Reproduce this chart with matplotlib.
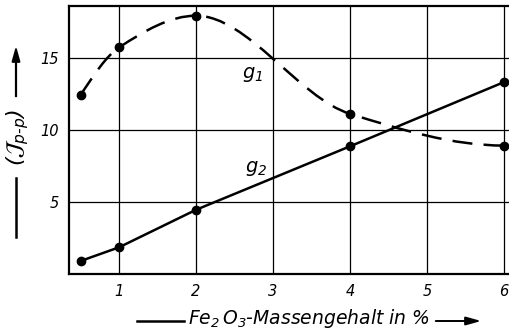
import matplotlib.pyplot as plt
import numpy as np
from matplotlib.path import Path
from matplotlib.patches import PathPatch

# Messwerte
x_werte = [0.5, 1, 2, 4, 6]
g1_werte = [12.4, 15.7, 17.9, 11.1, 8.9]
g2_werte = [0.9, 1.85, 4.45, 8.85, 13.3]
x_ticks = [1, 2, 3, 4, 5, 6]
y_ticks = [5, 10, 15]

W, H = 510, 332
plt.rcParams['font.family'] = 'DejaVu Sans'
plt.rcParams['font.style'] = 'italic'
plt.rcParams['mathtext.default'] = 'it'


def px(x, y):
    # Pixelkoordinaten (oben links) -> Figurenbruch
    return x / W, 1 - y / H


def pchip_tangenten(x, y):
    x = np.asarray(x, float)
    y = np.asarray(y, float)
    h = np.diff(x)
    d = np.diff(y) / h
    m = np.zeros_like(y)
    for k in range(1, len(x) - 1):
        if d[k - 1] * d[k] > 0:
            w1 = 2 * h[k] + h[k - 1]
            w2 = h[k] + 2 * h[k - 1]
            m[k] = (w1 + w2) / (w1 / d[k - 1] + w2 / d[k])
    m0 = ((2 * h[0] + h[1]) * d[0] - h[0] * d[1]) / (h[0] + h[1])
    m[0] = m0 if m0 * d[0] > 0 else 0
    mn = ((2 * h[-1] + h[-2]) * d[-1] - h[-1] * d[-2]) / (h[-1] + h[-2])
    m[-1] = mn if mn * d[-1] > 0 else 0
    return m


def glatte_kurve(x, y):
    # kubische Bezier-Segmente durch die Messpunkte
    m = pchip_tangenten(x, y)
    verts = [(x[0], y[0])]
    codes = [Path.MOVETO]
    for k in range(len(x) - 1):
        h = x[k + 1] - x[k]
        verts += [(x[k] + h / 3, y[k] + m[k] * h / 3),
                  (x[k + 1] - h / 3, y[k + 1] - m[k + 1] * h / 3),
                  (x[k + 1], y[k + 1])]
        codes += [Path.CURVE4] * 3
    return Path(verts, codes)


fig = plt.figure(figsize=(W / 100, H / 100), dpi=100)
ax = fig.add_axes([69 / W, (H - 274) / H, 1 - 69 / W, 268 / H])

ax.set_xlim(0.35, 0.35 + 441 / 77)
ax.set_ylim(0, 268 / 14.43)
ax.set_xticks(x_ticks)
ax.set_yticks(y_ticks)
ax.tick_params(length=0, labelsize=10.5, pad=7)
ax.grid(True, color='black', lw=0.9)
ax.set_axisbelow(True)
for s in ['left', 'top', 'bottom']:
    ax.spines[s].set_linewidth(1.6)
ax.spines['right'].set_visible(False)

# g1 gestrichelt und geglaettet
ax.add_patch(PathPatch(glatte_kurve(x_werte, g1_werte), fill=False,
                       lw=1.8, ls=(0, (8, 4.5)), color='black',
                       capstyle='butt'))
ax.plot(x_werte, g1_werte, 'o', color='black', ms=6)

# g2 durchgezogen
ax.plot(x_werte, g2_werte, '-o', color='black', lw=1.8, ms=6)

ax.text(2.6, 13.8, '$g_1$', fontsize=14, ha='left', va='center')
ax.text(2.64, 7.3, '$g_2$', fontsize=14, ha='left', va='center')

# y-Beschriftung mit Pfeil
fig.text(*px(18, 137), r'$(\mathcal{J}_{p\text{-}p})$', rotation=90,
         ha='center', va='center', fontsize=16)
fig.add_artist(plt.Line2D(*zip(px(16, 237), px(16, 178)), color='black', lw=1.8))
fig.add_artist(plt.Line2D(*zip(px(16, 96), px(16, 56)), color='black', lw=1.6))
plt.annotate('', xy=px(16, 43), xytext=px(16, 60), xycoords='figure fraction',
             arrowprops=dict(arrowstyle='-|>,head_length=0.9,head_width=0.25',
                             color='black', lw=1.4))

# x-Beschriftung mit Pfeil
fig.text(*px(188, 319), '$Fe_2\\,O_3$-Massengehalt in %', ha='left', va='center',
         fontsize=13.5)
fig.add_artist(plt.Line2D(*zip(px(137, 321), px(184, 321)), color='black', lw=1.8))
plt.annotate('', xy=px(484, 321), xytext=px(433, 321), xycoords='figure fraction',
             arrowprops=dict(arrowstyle='-|>,head_length=0.9,head_width=0.25',
                             color='black', lw=1.4))

fig.savefig('out.png', dpi=100)
